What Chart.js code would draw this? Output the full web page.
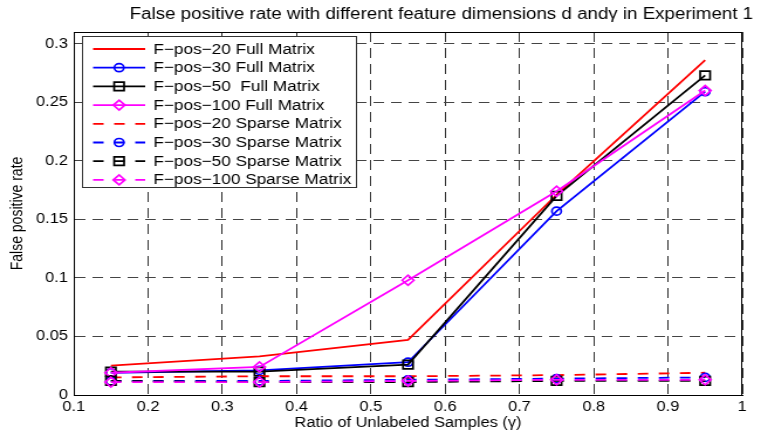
<!DOCTYPE html>
<html>
<head>
<meta charset="utf-8">
<script src="https://cdn.jsdelivr.net/npm/chart.js@4/dist/chart.umd.min.js"></script>
<style>
  html, body { margin: 0; padding: 0; background: #fff; }
</style>
</head>
<body>
<!-- the figure is drawn at 650px and widened to 761px, like the original export -->
<canvas id="fposChart" width="650" height="434" style="width:761px;height:434px;display:block"></canvas>
<script>
// Ratio of unlabeled samples (gamma)
const ratios = [0.15, 0.35, 0.55, 0.75, 0.95];

// False positive rate, full matrix
const fullPos20 = [0.025, 0.033, 0.047, 0.171, 0.286];
const fullPos30 = [0.019, 0.021, 0.028, 0.157, 0.259];
const fullPos50 = [0.020, 0.020, 0.026, 0.170, 0.273];
const fullPos100 = [0.019, 0.024, 0.098, 0.174, 0.260];

// False positive rate, sparse matrix
const sparsePos20 = [0.015, 0.016, 0.016, 0.017, 0.019];
const sparsePos30 = [0.012, 0.012, 0.013, 0.014, 0.015];
const sparsePos50 = [0.012, 0.011, 0.011, 0.012, 0.012];
const sparsePos100 = [0.011, 0.011, 0.012, 0.013, 0.013];

const seriesNames = [
    'F\u2212pos\u221220 Full Matrix',
    'F\u2212pos\u221230 Full Matrix',
    'F\u2212pos\u221250  Full Matrix',
    'F\u2212pos\u2212100 Full Matrix',
    'F\u2212pos\u221220 Sparse Matrix',
    'F\u2212pos\u221230 Sparse Matrix',
    'F\u2212pos\u221250 Sparse Matrix',
    'F\u2212pos\u2212100 Sparse Matrix'
];

const xTicks = [0.1, 0.2, 0.3, 0.4, 0.5, 0.6, 0.7, 0.8, 0.9, 1];
const yTicks = [0, 0.05, 0.1, 0.15, 0.2, 0.25, 0.3];

const chartTitle = 'False positive rate with different feature dimensions d and\u03b3 in Experiment 1';
const xTitle = 'Ratio of Unlabeled Samples (\u03b3)';
const yTitle = 'False positive rate';

const FONT = 'Liberation Sans, Arial, Helvetica, sans-serif';
const LINE_DASH = [9, 9];

function toPoints(values) {
    return values.map((v, i) => ({ x: ratios[i], y: v }));
}

// colour, marker, values, dashed?
const seriesDefs = [
    ['#ff0000', false, fullPos20, false],
    ['#0000ff', 'circle', fullPos30, false],
    ['#000000', 'rect', fullPos50, false],
    ['#ff00ff', 'rectRot', fullPos100, false],
    ['#ff0000', false, sparsePos20, true],
    ['#0000ff', 'circle', sparsePos30, true],
    ['#000000', 'rect', sparsePos50, true],
    ['#ff00ff', 'rectRot', sparsePos100, true]
];

const markerRadius = { circle: 4, rect: 6, rectRot: 5 };

const datasets = seriesDefs.map(([color, marker, values, dashed], i) => ({
    label: seriesNames[i],
    data: toPoints(values),
    borderColor: color,
    backgroundColor: color,
    borderWidth: 1.8,
    borderDash: dashed ? LINE_DASH : [],
    pointStyle: marker || 'circle',
    pointRadius: marker ? markerRadius[marker] : 0,
    pointBorderColor: color,
    pointBackgroundColor: 'rgba(0,0,0,0)',
    pointBorderWidth: 1.7,
    fill: false,
    tension: 0,
    order: seriesDefs.length - i
}));

// Title above the axes
const titlePlugin = {
    id: 'figTitle',
    afterDraw(chart) {
        const ctx = chart.ctx;
        ctx.save();
        ctx.font = '16px ' + FONT;
        ctx.fillStyle = '#000';
        ctx.textAlign = 'center';
        ctx.textBaseline = 'middle';
        ctx.fillText(chartTitle, 377, 15);
        ctx.restore();
    }
};

// Closed box around the plotting area
const boxPlugin = {
    id: 'axesBox',
    afterDatasetsDraw(chart) {
        const { ctx, chartArea: a } = chart;
        ctx.save();
        ctx.strokeStyle = '#000';
        ctx.lineWidth = 1;
        ctx.setLineDash([]);
        ctx.strokeRect(Math.round(a.left) + 0.5, Math.round(a.top) + 0.5,
            Math.round(a.right - a.left) - 1, Math.round(a.bottom - a.top));
        ctx.restore();
    }
};

// Legend box in the upper left corner of the axes
const legendPlugin = {
    id: 'boxLegend',
    afterDraw(chart) {
        const ctx = chart.ctx;
        const box = { x: 70, y: 36, w: 234, h: 151 };
        const rowY = 49, rowStep = 18.7;
        const lineX1 = 79.5, lineX2 = 124, textX = 131;
        ctx.save();
        ctx.fillStyle = '#fff';
        ctx.fillRect(box.x, box.y, box.w, box.h);
        ctx.strokeStyle = '#333';
        ctx.lineWidth = 1;
        ctx.strokeRect(box.x + 0.5, box.y + 0.5, box.w, box.h);

        chart.data.datasets.forEach((ds, i) => {
            const y = rowY + i * rowStep;
            ctx.strokeStyle = ds.borderColor;
            ctx.lineWidth = ds.borderWidth;
            ctx.setLineDash(ds.borderDash);
            ctx.beginPath();
            ctx.moveTo(lineX1, y);
            ctx.lineTo(lineX2, y);
            ctx.stroke();
            ctx.setLineDash([]);
            if (ds.pointRadius > 0) {
                ctx.fillStyle = 'rgba(0,0,0,0)';
                ctx.strokeStyle = ds.pointBorderColor;
                ctx.lineWidth = ds.pointBorderWidth;
                Chart.helpers.drawPoint(ctx, {
                    pointStyle: ds.pointStyle,
                    radius: ds.pointRadius,
                    rotation: 0,
                    borderWidth: ds.pointBorderWidth
                }, (lineX1 + lineX2) / 2, y);
            }
            ctx.fillStyle = '#000';
            ctx.font = '14.7px ' + FONT;
            ctx.textAlign = 'left';
            ctx.textBaseline = 'middle';
            ctx.fillText(ds.label, textX, y + 0.5);
        });
        ctx.restore();
    }
};

const ctx = document.getElementById('fposChart').getContext('2d');
new Chart(ctx, {
    type: 'line',
    data: { datasets },
    options: {
        responsive: false,
        animation: false,
        devicePixelRatio: 1,
        layout: { padding: { top: 32, right: 16, left: 0, bottom: 0 } },
        plugins: {
            legend: { display: false },
            title: { display: false },
            tooltip: { enabled: false }
        },
        scales: {
            x: {
                type: 'linear',
                min: 0.1,
                max: 1,
                afterFit: (scale) => { scale.height = 39; },
                afterBuildTicks: (scale) => { scale.ticks = xTicks.map(v => ({ value: v })); },
                grid: { color: '#333', lineWidth: 1, drawTicks: false },
                border: { display: true, color: '#000', width: 1, dash: [10, 6] },
                ticks: {
                    padding: 4,
                    color: '#000',
                    font: { family: FONT, size: 14 },
                    maxRotation: 0,
                    callback: (v) => (Math.abs(v - 1) < 1e-9 ? '1' : Number(v).toFixed(1))
                },
                title: {
                    display: true,
                    text: xTitle,
                    color: '#000',
                    font: { family: FONT, size: 14 },
                    padding: { top: 0, bottom: 2 }
                }
            },
            y: {
                type: 'linear',
                min: 0,
                max: 0.31,
                afterFit: (scale) => { scale.width = 63; },
                afterBuildTicks: (scale) => { scale.ticks = yTicks.map(v => ({ value: v })); },
                grid: { color: '#444', lineWidth: 1, drawTicks: false },
                border: { display: true, color: '#000', width: 1, dash: [9, 6] },
                ticks: {
                    padding: 5,
                    color: '#000',
                    font: { family: FONT, size: 14 },
                    callback: (v) => String(Number(Number(v).toFixed(2)))
                },
                title: {
                    display: true,
                    text: yTitle,
                    color: '#000',
                    font: { family: FONT, size: 14 },
                    padding: { top: 7, bottom: 0 }
                }
            }
        }
    },
    plugins: [boxPlugin, legendPlugin, titlePlugin]
});
</script>
</body>
</html>
